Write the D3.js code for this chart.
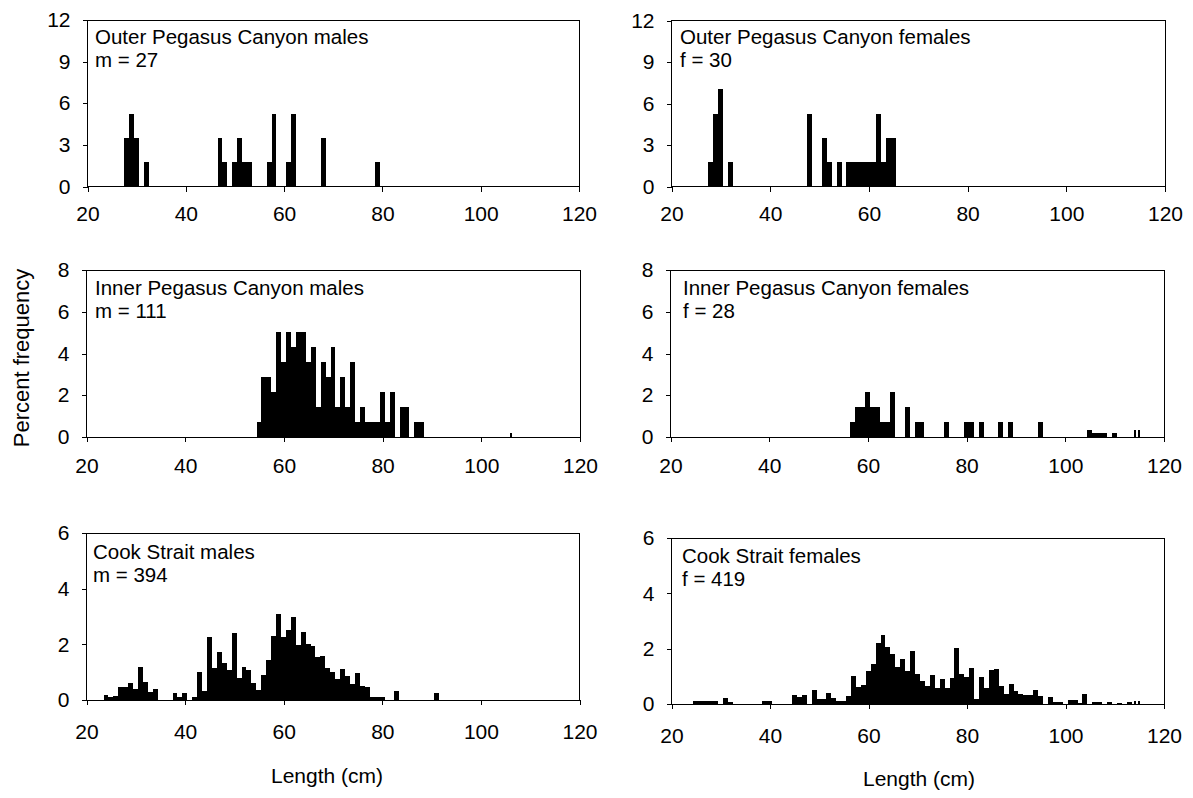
<!DOCTYPE html>
<html><head><meta charset="utf-8">
<script src="https://cdn.jsdelivr.net/npm/d3@7"></script>
<style>
body{margin:0;background:#fff}
svg{display:block}
text{font-family:"Liberation Sans",Arial,sans-serif;fill:#000}
</style>
</head><body>
<svg width="1193" height="798"></svg>
<script>
// ---------- data ----------
const xTickValues = [20, 40, 60, 80, 100, 120];
const yTicksOuter = [0, 3, 6, 9, 12];
const yTicksInner = [0, 2, 4, 6, 8];
const yTicksCook = [0, 2, 4, 6];

const outerMalesLen = [28, 29, 30, 32, 47, 48, 50, 51, 52, 53, 57, 58, 61, 62, 68, 79];
const outerMalesPct = [3.51, 5.26, 3.51, 1.75, 3.51, 1.75, 1.75, 3.51, 1.75, 1.75, 1.75, 5.26, 1.75, 5.26, 3.51, 1.75];

const outerFemalesLen = [28, 29, 30, 32, 48, 51, 52, 54, 56, 57, 58, 59, 60, 61, 62, 63, 64, 65];
const outerFemalesPct = [1.75, 5.26, 7.02, 1.75, 5.26, 3.51, 1.75, 1.75, 1.75, 1.75, 1.75, 1.75, 1.75, 1.75, 5.26, 1.75, 3.51, 3.51];

const innerMalesLen = [55, 56, 57, 58, 59, 60, 61, 62, 63, 64, 65, 66, 67, 68, 69, 70, 71, 72, 73, 74, 75, 76, 77, 78, 79, 80, 81, 82, 84, 85, 87, 88];
const innerMalesPct = [0.72, 2.88, 2.88, 2.16, 5.04, 3.60, 5.04, 4.32, 5.04, 5.04, 3.60, 4.32, 1.44, 3.60, 2.88, 4.32, 1.44, 2.88, 1.44, 3.60, 0.72, 1.44, 0.72, 0.72, 0.72, 2.16, 0.72, 2.16, 1.44, 1.44, 0.72, 0.72];
const innerMalesThinLen = [106];
const innerMalesThinPct = [0.19];

const innerFemalesLen = [57, 58, 59, 60, 61, 62, 63, 64, 65, 68, 70, 71, 76, 80, 81, 83, 87, 89, 95, 105, 106, 107, 108, 110];
const innerFemalesPct = [0.72, 1.44, 1.44, 2.16, 1.44, 1.44, 0.72, 0.72, 2.16, 1.44, 0.72, 0.72, 0.72, 0.72, 0.72, 0.72, 0.72, 0.72, 0.72, 0.35, 0.19, 0.19, 0.19, 0.19];
const innerFemalesThinLen = [114.1, 115];
const innerFemalesThinPct = [0.35, 0.35];

const cookMalesLen = [24, 25, 26, 27, 28, 29, 30, 31, 32, 33, 34, 38, 39, 40, 42, 43, 44, 45, 46, 47, 48, 49, 50, 51, 52, 53, 54, 55, 56, 57, 58, 59, 60, 61, 62, 63, 64, 65, 66, 67, 68, 69, 70, 71, 72, 73, 74, 75, 76, 77, 78, 79, 80, 83, 91];
const cookMalesPct = [0.18, 0.12, 0.16, 0.46, 0.45, 0.60, 0.40, 1.17, 0.65, 0.30, 0.40, 0.24, 0.12, 0.24, 0.10, 1.02, 0.34, 2.25, 1.14, 1.73, 1.33, 1.08, 2.39, 0.80, 1.17, 1.08, 0.60, 0.36, 0.90, 1.45, 2.31, 3.10, 2.27, 2.53, 2.99, 1.99, 2.45, 2.01, 1.95, 1.54, 1.57, 1.14, 1.00, 0.76, 1.12, 0.88, 0.58, 0.96, 0.50, 0.46, 0.10, 0.12, 0.12, 0.33, 0.24];

const cookFemalesLen = [25, 26, 27, 28, 29, 31, 32, 39, 40, 45, 46, 47, 49, 50, 51, 52, 53, 54, 55, 56, 57, 58, 59, 60, 61, 62, 63, 64, 65, 66, 67, 68, 69, 70, 71, 72, 73, 74, 75, 76, 77, 78, 79, 80, 81, 82, 83, 84, 85, 86, 87, 88, 89, 90, 91, 92, 93, 94, 95, 97, 98, 99, 101, 102, 103, 104, 106, 107, 109, 111, 113];
const cookFemalesPct = [0.12, 0.12, 0.12, 0.12, 0.12, 0.22, 0.07, 0.10, 0.10, 0.33, 0.24, 0.31, 0.51, 0.17, 0.17, 0.39, 0.20, 0.11, 0.11, 0.29, 1.01, 0.60, 0.69, 1.19, 1.45, 2.19, 2.50, 2.05, 1.81, 1.35, 1.63, 1.19, 1.93, 1.10, 0.83, 0.65, 1.05, 0.57, 0.89, 0.57, 0.94, 2.01, 1.07, 0.99, 1.29, 0.18, 0.98, 0.59, 1.23, 1.25, 0.65, 0.36, 0.72, 0.47, 0.36, 0.33, 0.31, 0.51, 0.30, 0.24, 0.07, 0.07, 0.14, 0.14, 0.04, 0.36, 0.07, 0.07, 0.07, 0.03, 0.07];
const cookFemalesThinLen = [114.2, 115];
const cookFemalesThinPct = [0.10, 0.10];

const panelTitles = ["Outer Pegasus Canyon males", "Outer Pegasus Canyon females", "Inner Pegasus Canyon males", "Inner Pegasus Canyon females", "Cook Strait males", "Cook Strait females"];
const panelCounts = ["m = 27", "f = 30", "m = 111", "f = 28", "m = 394", "f = 419"];

// ---------- layout ----------
const FS_TICK = 21;
const FS_TITLE = 20.5;
const FS_AXIS = 21;
const svg = d3.select("svg");

const panels = [
  {len: outerMalesLen, pct: outerMalesPct, thinLen: [], thinPct: [], yMax: 12, yTicks: yTicksOuter,
   L: 87.5, R: 579, T: 20, B: 186.5, tx: 95, ty: 44, xLab: 15},
  {len: outerFemalesLen, pct: outerFemalesPct, thinLen: [], thinPct: [], yMax: 12, yTicks: yTicksOuter,
   L: 671.5, R: 1165, T: 20.5, B: 186.5, tx: 680, ty: 44, xLab: 15},
  {len: innerMalesLen, pct: innerMalesPct, thinLen: innerMalesThinLen, thinPct: innerMalesThinPct, yMax: 8, yTicks: yTicksInner,
   L: 86.5, R: 580, T: 270, B: 437, tx: 95, ty: 295, xLab: 16},
  {len: innerFemalesLen, pct: innerFemalesPct, thinLen: innerFemalesThinLen, thinPct: innerFemalesThinPct, yMax: 8, yTicks: yTicksInner,
   L: 670.5, R: 1164, T: 270, B: 437, tx: 683, ty: 295, xLab: 16},
  {len: cookMalesLen, pct: cookMalesPct, thinLen: [], thinPct: [], yMax: 6, yTicks: yTicksCook,
   L: 86.5, R: 579.5, T: 533, B: 700, tx: 93, ty: 559, xLab: 19},
  {len: cookFemalesLen, pct: cookFemalesPct, thinLen: cookFemalesThinLen, thinPct: cookFemalesThinPct, yMax: 6, yTicks: yTicksCook,
   L: 671.5, R: 1164, T: 538, B: 704, tx: 682, ty: 563, xLab: 19}
];

panels.forEach((p, i) => {
  const x = d3.scaleLinear().domain([20, 120]).range([p.L, p.R]);
  const y = d3.scaleLinear().domain([0, p.yMax]).range([p.B, p.T]);
  const g = svg.append("g");

  const bins = p.len.map((c, k) => ({c: c, v: p.pct[k]}));
  g.append("g").selectAll("rect").data(bins).join("rect")
    .attr("x", d => x(d.c - 0.55))
    .attr("width", d => x(d.c + 0.45) - x(d.c - 0.55))
    .attr("y", d => y(d.v))
    .attr("height", d => y(0) - y(d.v))
    .attr("fill", "#000")
    .attr("shape-rendering", "crispEdges");

  const thin = p.thinLen.map((c, k) => ({c: c, v: p.thinPct[k]}));
  g.append("g").selectAll("rect").data(thin).join("rect")
    .attr("x", d => x(d.c) - 1)
    .attr("width", 2)
    .attr("y", d => y(d.v))
    .attr("height", d => y(0) - y(d.v))
    .attr("fill", "#000")
    .attr("shape-rendering", "crispEdges");

  // frame
  g.append("rect")
    .attr("x", p.L).attr("y", p.T)
    .attr("width", p.R - p.L).attr("height", p.B - p.T)
    .attr("fill", "none").attr("stroke", "#000").attr("stroke-width", 1)
    .attr("shape-rendering", "crispEdges");

  const ax = g.append("g").attr("transform", `translate(0,${p.B})`)
    .call(d3.axisBottom(x).tickValues(xTickValues).tickSize(5).tickSizeOuter(0).tickPadding(p.xLab).tickFormat(d3.format("d")));
  const ay = g.append("g").attr("transform", `translate(${p.L},0)`)
    .call(d3.axisLeft(y).tickValues(p.yTicks).tickSize(5).tickSizeOuter(0).tickPadding(12).tickFormat(d3.format("d")));
  [ax, ay].forEach(a => {
    a.select(".domain").remove();
    a.selectAll("line").attr("stroke", "#000").attr("shape-rendering", "crispEdges");
    a.selectAll("text").attr("font-size", FS_TICK).attr("font-family", '"Liberation Sans",Arial,sans-serif').attr("fill", "#000");
  });

  g.append("text").attr("x", p.tx).attr("y", p.ty).attr("font-size", FS_TITLE).text(panelTitles[i]);
  g.append("text").attr("x", p.tx).attr("y", p.ty + 23).attr("font-size", FS_TITLE).text(panelCounts[i]);
});

svg.append("text").attr("x", 327).attr("y", 783).attr("text-anchor", "middle").attr("font-size", FS_AXIS).text("Length (cm)");
svg.append("text").attr("x", 919).attr("y", 786).attr("text-anchor", "middle").attr("font-size", FS_AXIS).text("Length (cm)");
svg.append("text").attr("transform", "translate(29,358) rotate(-90)").attr("text-anchor", "middle").attr("font-size", 22).text("Percent frequency");
</script>
</body></html>
